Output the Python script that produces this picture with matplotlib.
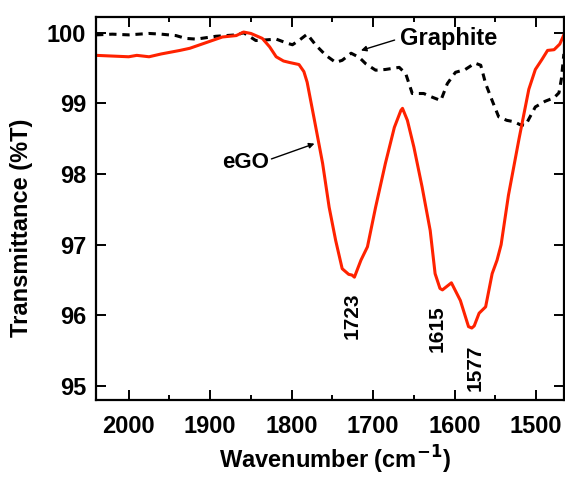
import matplotlib
matplotlib.use("Agg")
import matplotlib.pyplot as plt
from matplotlib.ticker import MultipleLocator

plt.rcParams['font.family'] = ['Liberation Sans', 'DejaVu Sans']
plt.rcParams['font.weight'] = 'bold'

# eGO spectrum (wavenumber, %T)
ego_wn = [2040, 2020, 2000, 1990, 1975, 1960, 1937, 1925, 1905, 1885, 1868, 1859,
          1850, 1836, 1827, 1819, 1810, 1803, 1791, 1785, 1781, 1772, 1762, 1754,
          1746, 1738, 1730, 1726, 1723, 1715, 1707, 1697, 1685, 1674, 1666, 1664,
          1658, 1650, 1640, 1630, 1624, 1618, 1615, 1604, 1593, 1583, 1579, 1576,
          1570, 1562, 1554, 1548, 1543, 1534, 1521, 1509, 1501, 1493, 1486, 1478,
          1471, 1466]
ego_t = [99.68, 99.67, 99.66, 99.68, 99.66, 99.70, 99.75, 99.78, 99.86, 99.94, 99.96, 100.01,
         99.99, 99.92, 99.80, 99.66, 99.60, 99.58, 99.55, 99.45, 99.30, 98.76, 98.15, 97.53,
         97.06, 96.66, 96.58, 96.57, 96.54, 96.78, 96.97, 97.53, 98.15, 98.66, 98.90, 98.93,
         98.76, 98.38, 97.82, 97.20, 96.59, 96.38, 96.36, 96.46, 96.21, 95.84, 95.82, 95.85,
         96.03, 96.12, 96.59, 96.78, 97.00, 97.70, 98.50, 99.20, 99.48, 99.62, 99.75, 99.76,
         99.84, 99.97]

# graphite spectrum
gr_wn = [2040, 2020, 2000, 1975, 1960, 1942, 1930, 1917, 1893, 1868, 1859, 1852,
         1844, 1830, 1819, 1805, 1799, 1790, 1781, 1770, 1758, 1746, 1738, 1727,
         1717, 1709, 1697, 1685, 1668, 1660, 1652, 1638, 1628, 1617, 1609, 1599,
         1587, 1575, 1568, 1562, 1554, 1546, 1536, 1527, 1520, 1513, 1508, 1501,
         1489, 1478, 1472, 1469, 1466]
gr_t = [99.97, 99.98, 99.97, 99.99, 99.98, 99.96, 99.92, 99.91, 99.95, 99.97, 100.0, 99.95,
        99.89, 99.90, 99.91, 99.85, 99.83, 99.90, 99.98, 99.82, 99.68, 99.58, 99.61, 99.71,
        99.65, 99.56, 99.47, 99.48, 99.51, 99.42, 99.14, 99.14, 99.09, 99.04, 99.28, 99.44,
        99.48, 99.57, 99.54, 99.28, 99.04, 98.81, 98.76, 98.74, 98.70, 98.69, 98.80, 98.95,
        99.03, 99.08, 99.15, 99.35, 99.70]

peak_pos = [1726, 1621, 1574.5]
peak_top = [96.33, 96.14, 95.58]
peak_txt = ['1723', '1615', '1577']

fig = plt.figure(figsize=(5.65, 4.78), dpi=100)
ax = fig.add_axes([0.170, 0.163, 0.828, 0.801])

ax.plot(gr_wn, gr_t, color='black', lw=2.2, linestyle=(0, (2.4, 1.9)))
ax.plot(ego_wn, ego_t, color='#ff2200', lw=2.2)

ax.set_xlim(2040, 1466)
ax.set_ylim(94.8, 100.22)
ax.xaxis.set_major_locator(MultipleLocator(100))
ax.xaxis.set_minor_locator(MultipleLocator(50))
ax.yaxis.set_major_locator(MultipleLocator(1))

for s in ax.spines.values():
    s.set_linewidth(1.6)
ax.tick_params(which='both', direction='in', top=True, right=True, width=1.4,
               labelsize=17)
ax.tick_params(which='major', length=7)
ax.tick_params(which='minor', length=3.5)
ax.tick_params(axis='x', pad=11)
ax.tick_params(axis='y', pad=7)

ax.set_xlabel('Wavenumber (cm$^{\\mathbf{-1}}$)', fontsize=17, fontweight='bold')
ax.set_ylabel('Transmittance (%T)', fontsize=17, fontweight='bold')
ax.xaxis.set_label_coords(0.51, -0.113)
ax.yaxis.set_label_coords(-0.135, 0.45)

for x, y, t in zip(peak_pos, peak_top, peak_txt):
    ax.text(x, y, t, rotation=90, ha='center', va='top', fontsize=15, fontweight='bold')

ax.annotate('eGO', xy=(1772, 98.43), xytext=(1857, 98.17), fontsize=16, fontweight='bold',
            ha='center', va='center',
            arrowprops=dict(arrowstyle='-|>', color='black', lw=1, mutation_scale=8,
                            shrinkA=0, shrinkB=0, relpos=(1.0, 0.6)))
ax.annotate('Graphite', xy=(1715, 99.75), xytext=(1667, 99.92), fontsize=17, fontweight='bold',
            ha='left', va='center',
            arrowprops=dict(arrowstyle='-|>', color='black', lw=1, mutation_scale=8,
                            shrinkA=2, shrinkB=0, relpos=(0.0, 0.5)))

fig.savefig('out.png', dpi=100)
